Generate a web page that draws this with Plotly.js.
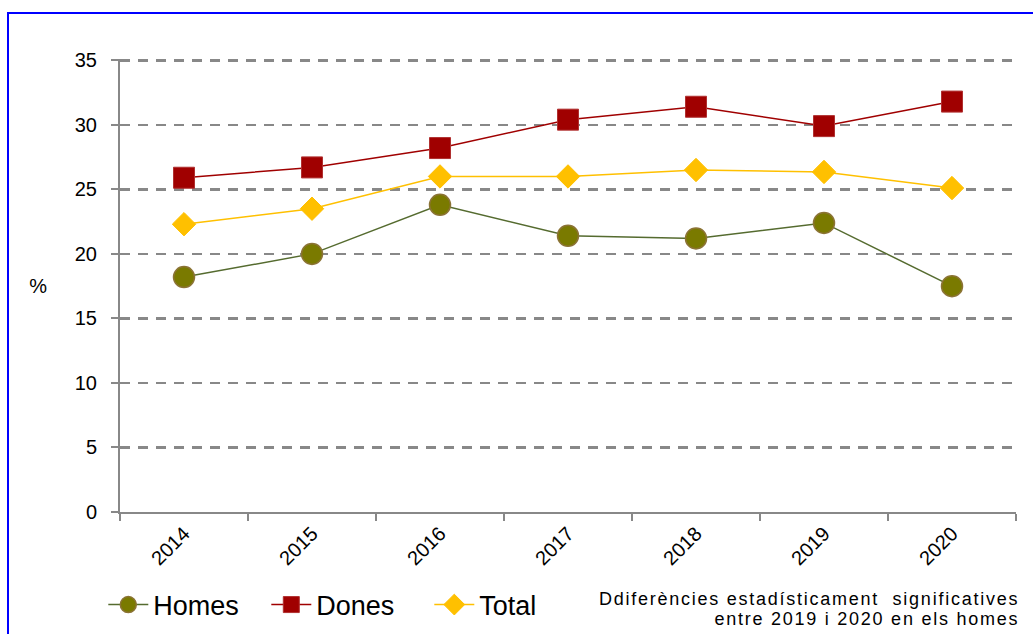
<!DOCTYPE html>
<html>
<head>
<meta charset="utf-8">
<script src="https://cdn.plot.ly/plotly-3.0.1.min.js"></script>
<style>
html,body{margin:0;padding:0;background:#fff;}
#chart{width:1033px;height:634px;}
#chart .annotation-text{letter-spacing:1.75px;}
</style>
</head>
<body>
<div id="chart"></div>
<script>
const years = ["2014","2015","2016","2017","2018","2019","2020"];
const homes = [18.2, 20.0, 23.8, 21.4, 21.2, 22.4, 17.5];
const dones = [25.9, 26.7, 28.2, 30.4, 31.4, 29.9, 31.8];
const total = [22.3, 23.5, 26.0, 26.0, 26.5, 26.35, 25.1];
const yTicks = [0, 5, 10, 15, 20, 25, 30, 35];
const noteLine1 = "Ddiferències estadísticament  significatives";
const noteLine2 = "entre 2019 i 2020 en els homes";

const traces = [
  {x: years, y: homes, name: "Homes", type: "scatter", mode: "lines+markers",
   line: {color: "#556B2F", width: 1.5},
   marker: {symbol: "circle", size: 21, color: "#7A7A00", line: {color: "#8B7335", width: 1.5}}},
  {x: years, y: dones, name: "Dones", type: "scatter", mode: "lines+markers",
   line: {color: "#A00000", width: 1.5},
   marker: {symbol: "square", size: 21, color: "#A00000", line: {color: "#B03030", width: 1}}},
  {x: years, y: total, name: "Total", type: "scatter", mode: "lines+markers",
   line: {color: "#FFC000", width: 1.5},
   marker: {symbol: "diamond", size: 18, color: "#FFC000", line: {color: "#FFC000", width: 1}}}
];

const layout = {
  width: 1033, height: 634,
  margin: {l: 120, r: 17, t: 59, b: 122},
  paper_bgcolor: "#fff", plot_bgcolor: "#fff",
  font: {family: "Liberation Sans, Arial, sans-serif", color: "#000", size: 20},
  showlegend: true,
  legend: {orientation: "h", x: 0.1, xref: "container", y: 0.0457, yref: "container", yanchor: "middle",
           font: {size: 27}, itemwidth: 40, entrywidth: 108, entrywidthmode: "pixels",
           tracegroupgap: 0, bgcolor: "rgba(0,0,0,0)"},
  xaxis: {
    type: "category", tickson: "boundaries", ticks: "outside", ticklen: 7, tickwidth: 2, tickcolor: "#888",
    showline: true, linecolor: "#888", linewidth: 2, showgrid: false, zeroline: false,
    tickangle: -45, tickfont: {size: 20}, range: [-0.5, 6.5], fixedrange: true
  },
  yaxis: {
    range: [0, 35.1], tickvals: yTicks, ticktext: yTicks.map(String), ticks: "outside", ticklen: 7, tickwidth: 2, tickcolor: "#888",
    showline: true, linecolor: "#888", linewidth: 2, showgrid: true, gridcolor: "#888", gridwidth: 2.5, griddash: "10px,8px",
    zeroline: false, tickfont: {size: 20}, ticklabelstandoff: 10
  },
  shapes: [
    {type: "rect", xref: "paper", yref: "paper", x0: -0.125, x1: 1.05, y0: -0.4, y1: 1.1015,
     line: {color: "#0000FF", width: 2}, fillcolor: "rgba(0,0,0,0)", layer: "below"}
  ],
  annotations: [
    {text: "%", xref: "paper", yref: "paper", x: -0.09, y: 0.50, xanchor: "center", yanchor: "middle",
     showarrow: false, font: {size: 20, color: "#000"}},
    {text: noteLine1, xref: "paper", yref: "paper", x: 1.006, y: -0.192, xanchor: "right", yanchor: "middle",
     align: "right", showarrow: false, font: {size: 18, color: "#000"}},
    {text: noteLine2, xref: "paper", yref: "paper", x: 1.006, y: -0.236, xanchor: "right", yanchor: "middle",
     align: "right", showarrow: false, font: {size: 18, color: "#000"}}
  ]
};

Plotly.newPlot("chart", traces, layout, {displayModeBar: false, staticPlot: true});
</script>
</body>
</html>
